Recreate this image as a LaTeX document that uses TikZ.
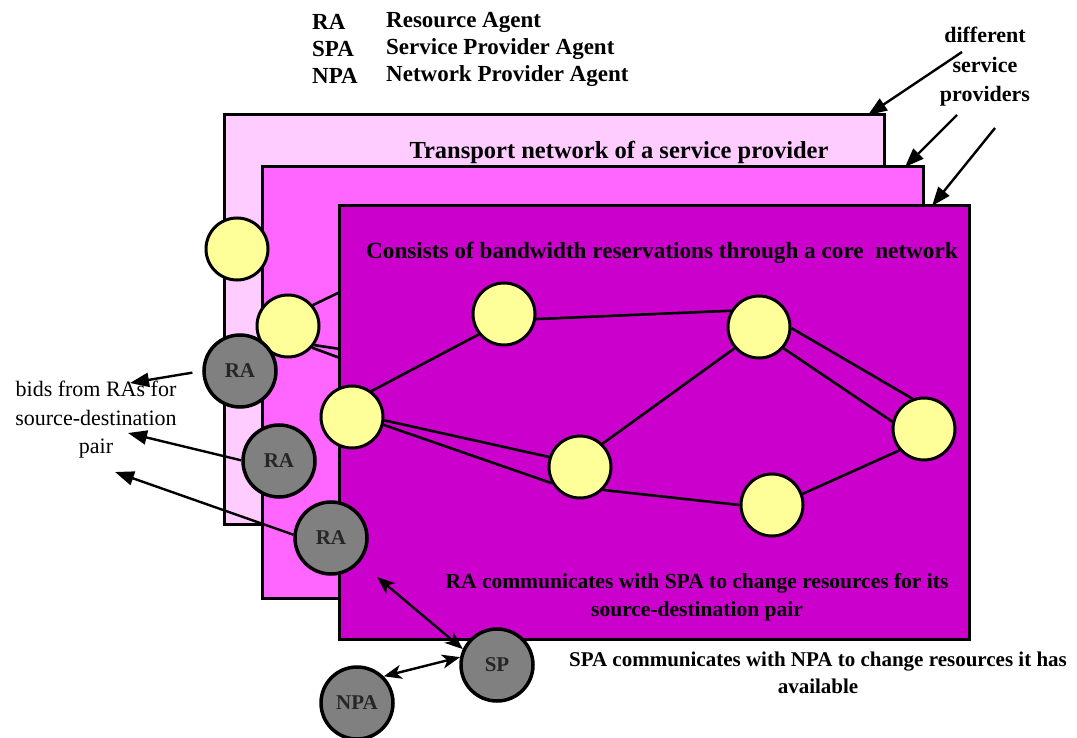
\documentclass[tikz,border=0pt]{standalone}
\usepackage{fontspec}
\setmainfont{Liberation Serif}
\usetikzlibrary{arrows.meta}
\definecolor{layerback}{HTML}{FFCCFF}
\definecolor{layermid}{HTML}{FF66FF}
\definecolor{layerfront}{HTML}{CC00CC}
\definecolor{hubfill}{HTML}{FFFF99}
\definecolor{agentfill}{HTML}{808080}
\newcommand{\pts}[2]{\fontsize{#1}{#2}\selectfont}
\begin{document}
\begin{tikzpicture}[x=1pt,y=-1pt,
  layerbox/.style={draw=black,line width=3pt},
  hub/.style={circle,draw=black,line width=3pt,fill=hubfill,minimum size=62pt,inner sep=0pt},
  agent/.style={circle,draw=black,line width=3.5pt,fill=agentfill,minimum size=72pt,inner sep=0pt,
    font=\bfseries\pts{21}{24},text=black!85},
  link/.style={draw=black,line width=2.6pt},
  boldtext/.style={font=\bfseries\pts{22}{27},align=center,inner sep=0pt},
  plaintext/.style={font=\pts{22}{28.5},align=center,inner sep=0pt},
  bid/.style={-{Triangle[length=19pt,width=14pt]},line width=2.4pt},
  talk/.style={{Stealth[length=18pt,width=14pt,inset=5pt]}-{Stealth[length=18pt,width=14pt,inset=5pt]},line width=2.4pt},
]
\useasboundingbox (0,0) rectangle (1077,738);

% legend
\tikzset{legend/.style={boldtext,anchor=west,font=\bfseries\pts{23}{27}}}
\node[legend] (kRA)  at (312,22) {RA};
\node[legend] (kSPA) at (312,49) {SPA};
\node[legend] (kNPA) at (312,76) {NPA};
\node[legend] (vRA)  at (386,22) {Resource Agent};
\node[legend] (vSPA) at (386,49) {Service Provider Agent};
\node[legend] (vNPA) at (386,76) {Network Provider Agent};

% three stacked provider layers
\filldraw[layerbox,fill=layerback] (224,115) coordinate (backNW) rectangle (884,524);
\node[boldtext,font=\bfseries\pts{24.5}{27}] (transport) at (619,152) {Transport network of a service provider};
\filldraw[layerbox,fill=layermid] (262,167) coordinate (midNW) rectangle (923,598);
\coordinate (backNE) at (868,115);
\coordinate (midNE) at (905,167);
\coordinate (frontNE) at (932,206);

% nodes of the middle layer that show past the front layer
\node[hub] (y1) at (237,249) {};
\node[hub] (y2) at (288,326) {};
\coordinate (h1) at (340,292);
\coordinate (h2) at (340,349);
\coordinate (h3) at (340,358);
\draw[link] (y2.40) -- (h1);
\draw[link] (y2.-36) -- (h2);
\draw[link] (y2.-42) -- (h3);

% front layer: the core network
\filldraw[layerbox,fill=layerfront] (339,206) rectangle (969,639);
\node[boldtext,font=\bfseries\pts{23.2}{27}] (core) at (662,253) {Consists of bandwidth reservations through a core\ \ network};

\node[hub] (y3) at (352,417) {};
\node[hub] (y4) at (504,314) {};
\node[hub] (y5) at (580,467) {};
\node[hub] (y6) at (759,327) {};
\node[hub] (y7) at (924,429) {};
\node[hub] (y8) at (772,505) {};

\draw[link] (y3.53) -- (y4.219);
\draw[link] (y3.-6) -- (y5.162);
\draw[link] (y3.-14) -- (y5.210);
\draw[link] (y4.-9) -- (y6.150);
\draw[link] (y5.46) -- (y6.221);
\draw[link] (y5.-45) -- (y8.180);
\draw[link] (y6.-2) -- (y7.111);
\draw[link] (y6.-41) -- (y7.167);
\draw[link] (y8.20) -- (y7.221);

\node[boldtext,font=\bfseries\pts{21.5}{28}] (ratalk) at (697,597) {RA communicates with SPA to change resources for its\\source-destination pair};

% agents
\node[agent] (ra1) at (240,371) {RA};
\node[agent] (ra2) at (279,461) {RA};
\node[agent] (ra3) at (331,538) {RA};
\node[agent] (sp)  at (497,665) {SP};
\node[agent] (npa) at (357,703) {NPA};

% bids sent out by the resource agents
\node[plaintext] (bids) at (96,420) {bids from RAs for\\source-destination\\pair};
\coordinate (b1) at (130,383);
\coordinate (b2) at (128,433);
\coordinate (b3) at (115,472);
\draw[bid,shorten <=10pt] (ra1.west) -- (b1);
\draw[bid] (ra2.179) -- (b2);
\draw[bid] (ra3.175) -- (b3);

% agent communication
\coordinate (raend) at (377,577);
\draw[talk] (raend) -- (sp.155);
\draw[talk] (npa.45) -- (sp.168);
\node[boldtext,font=\bfseries\pts{21}{27}] (spatalk) at (818,673) {SPA communicates with NPA to change resources it has\\available};

% providers
\node[boldtext,font=\bfseries\pts{22}{29.5}] (providers) at (985,67) {different\\service\\providers};
\coordinate (p1) at (962,52);
\coordinate (p2) at (957,115);
\coordinate (p3) at (995,128);
\draw[bid] (p1) -- (backNE);
\draw[bid] (p2) -- (midNE);
\draw[bid] (p3) -- (frontNE);
\end{tikzpicture}
\end{document}
